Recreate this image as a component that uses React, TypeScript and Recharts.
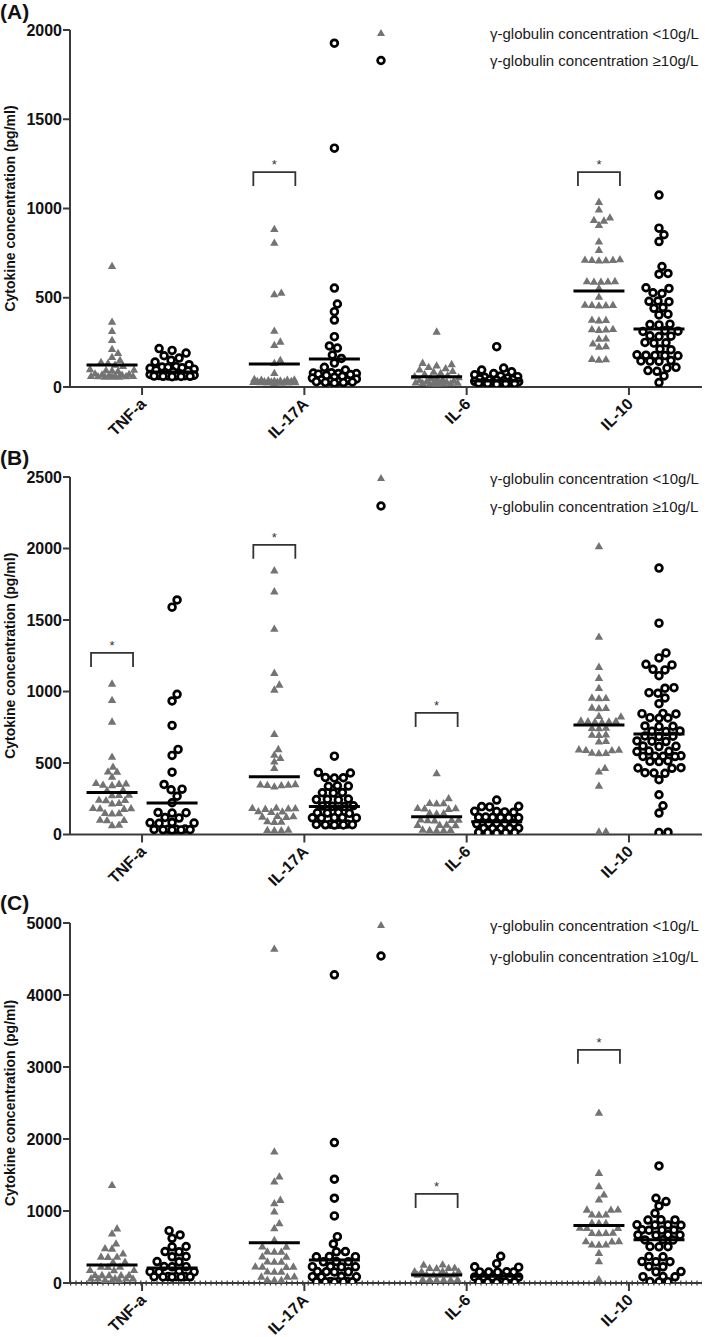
import React from 'react';
import { ScatterChart, Scatter, XAxis, YAxis, Legend, Label, ReferenceLine } from 'recharts';

const categories = ['TNF-a', 'IL-17A', 'IL-6', 'IL-10'];
const seriesNames = ['γ-globulin concentration <10g/L', 'γ-globulin concentration ≥10g/L'];

// ---------- Panel A ----------
const aTicks = [0, 500, 1000, 1500, 2000];
const aLow = [
  [678, 365, 314, 263, 213, 190, 168, 151, 140, 134, 125, 118, 100, 96, 94, 92, 90, 75, 72, 70, 68, 66, 64, 62, 62, 60, 60, 58, 58, 57],
  [885, 808, 528, 520, 315, 254, 235, 151, 134, 78, 45, 42, 40, 40, 38, 36, 35, 34, 33, 32, 30, 30, 29, 28, 27, 26, 25, 25, 24, 22],
  [310, 135, 128, 120, 112, 105, 98, 90, 85, 78, 72, 66, 60, 55, 50, 46, 42, 38, 35, 32, 30, 28, 26, 25, 24, 22, 21, 20, 19, 18],
  [1037, 994, 949, 935, 932, 907, 815, 768, 715, 713, 712, 711, 710, 709, 593, 592, 591, 590, 589, 554, 506, 461, 460, 459, 458, 457, 377, 375, 373, 325, 323, 322, 320, 272, 270, 244, 228, 225, 157, 155, 153],
];
const aHigh = [
  [215, 205, 190, 175, 162, 150, 140, 125, 114, 112, 110, 108, 105, 100, 95, 90, 85, 80, 75, 70, 66, 64, 63, 62, 62, 61, 60, 60, 59, 58],
  [1926, 1338, 554, 465, 422, 375, 282, 230, 218, 179, 160, 134, 110, 95, 80, 78, 76, 75, 72, 70, 65, 60, 55, 50, 45, 40, 35, 32, 30, 30, 28, 26, 25, 22],
  [226, 106, 95, 85, 75, 68, 62, 58, 55, 50, 46, 42, 40, 38, 35, 32, 30, 28, 26, 25, 24, 22, 20, 20, 18, 16],
  [1075, 890, 853, 815, 675, 636, 632, 556, 552, 528, 524, 482, 480, 478, 445, 441, 408, 404, 352, 350, 348, 315, 313, 311, 287, 285, 283, 250, 248, 246, 213, 209, 180, 178, 177, 176, 175, 148, 146, 145, 144, 110, 106, 92, 88, 62, 25],
];
const aLowMedians = [123, 129, 58, 538];
const aHighMedians = [84, 157, 34, 325];
const aBrackets = [{ cat: 2, top: 1204 }, { cat: 4, top: 1204 }];

// ---------- Panel B ----------
const bTicks = [0, 500, 1000, 1500, 2000, 2500];
const bLow = [
  [1055, 940, 789, 544, 474, 440, 438, 404, 360, 357, 354, 348, 344, 313, 309, 278, 276, 274, 243, 241, 239, 220, 216, 185, 183, 181, 179, 150, 148, 146, 103, 101, 99, 68, 64],
  [1847, 1700, 1438, 1130, 1048, 1013, 703, 597, 558, 535, 511, 465, 352, 350, 348, 346, 344, 335, 187, 185, 183, 181, 179, 162, 160, 158, 129, 127, 125, 123, 92, 90, 88, 33, 31, 30, 29],
  [428, 253, 220, 218, 216, 185, 183, 181, 179, 150, 148, 146, 105, 103, 102, 100, 98, 69, 67, 66, 64, 34, 32, 31, 30, 28],
  [2015, 1382, 1172, 1095, 1025, 957, 955, 953, 887, 885, 883, 829, 825, 796, 794, 792, 790, 788, 786, 747, 745, 743, 700, 698, 696, 654, 650, 595, 593, 591, 589, 572, 570, 568, 465, 441, 341, 22, 20],
];
const bHigh = [
  [1640, 1590, 980, 934, 763, 595, 553, 436, 350, 317, 313, 268, 222, 154, 152, 150, 119, 115, 84, 82, 80, 78, 38, 37, 36, 35, 34, 33, 32, 31],
  [548, 434, 430, 399, 397, 395, 341, 339, 337, 294, 292, 290, 248, 246, 244, 242, 201, 199, 197, 195, 154, 152, 150, 148, 119, 118, 117, 116, 115, 73, 72, 71, 70, 69, 68, 67, 66],
  [241, 197, 195, 193, 162, 160, 158, 156, 122, 121, 120, 119, 118, 117, 80, 79, 78, 77, 76, 75, 45, 44, 43, 42, 41, 15, 14, 13, 12, 11],
  [1863, 1478, 1270, 1235, 1190, 1186, 1155, 1151, 1111, 1027, 1023, 992, 988, 955, 915, 847, 845, 843, 817, 815, 813, 759, 757, 755, 724, 722, 720, 689, 687, 685, 654, 652, 650, 619, 617, 615, 584, 582, 580, 550, 548, 547, 546, 545, 514, 512, 510, 467, 465, 463, 432, 430, 428, 383, 278, 201, 150, 16, 14],
];
const bLowMedians = [293, 404, 125, 766];
const bHighMedians = [220, 195, 90, 703];
const bBrackets = [{ cat: 1, top: 1270 }, { cat: 2, top: 2026 }, { cat: 3, top: 850 }];

// ---------- Panel C ----------
const cTicks = [0, 1000, 2000, 3000, 4000, 5000];
const cLow = [
  [1362, 758, 688, 549, 481, 477, 410, 366, 364, 362, 296, 292, 227, 225, 223, 181, 179, 177, 111, 110, 109, 108, 107, 65, 64, 63, 62, 61, 42, 40, 38],
  [4643, 1826, 1479, 1409, 1154, 1108, 992, 830, 760, 598, 507, 503, 437, 435, 433, 368, 364, 298, 296, 294, 229, 227, 225, 223, 159, 157, 155, 90, 88, 86, 44, 42, 40],
  [257, 253, 211, 209, 207, 205, 164, 162, 160, 158, 118, 117, 116, 115, 114, 113, 48, 47, 46, 45, 44, 43],
  [2363, 1529, 1344, 1228, 1158, 1021, 1019, 1017, 952, 950, 948, 836, 834, 832, 767, 765, 763, 697, 695, 693, 691, 581, 579, 577, 535, 533, 531, 417, 301, 51],
];
const cHigh = [
  [727, 667, 621, 507, 503, 437, 433, 368, 364, 298, 294, 229, 227, 225, 159, 157, 155, 153, 90, 89, 88, 87, 86, 85, 84, 83],
  [4281, 1951, 1442, 1178, 932, 644, 542, 437, 433, 368, 366, 364, 298, 296, 294, 229, 227, 225, 223, 159, 157, 155, 153, 90, 88, 86, 84, 21, 20, 19, 18, 17, 16, 15, 14],
  [371, 269, 224, 220, 155, 154, 153, 152, 151, 85, 84, 83, 82, 81, 80, 16, 15, 14, 13, 12, 11],
  [1626, 1177, 1131, 1070, 968, 878, 876, 874, 808, 806, 804, 802, 739, 737, 735, 733, 669, 667, 665, 663, 600, 598, 596, 507, 505, 503, 368, 364, 298, 296, 294, 229, 225, 159, 155, 90, 88, 86, 21, 19, 17],
];
const cLowMedians = [250, 560, 110, 800];
const cHighMedians = [210, 320, 95, 600];
const cBrackets = [{ cat: 3, top: 1237 }, { cat: 4, top: 3239 }];

// ---------- layout constants ----------
const FONT = 'Arial, "Liberation Sans", sans-serif';
const AXIS = '#3a3a3a';
const X_DOMAIN: [number, number] = [0.556, 4.45];
const GROUP_OFFSET = 0.185;

function swarm(values: number[], pxPerUnit: number, d: number, maxHalf: number): number[] {
  const order = values.map((_, i) => i).sort((a, b) => values[a] - values[b]);
  const placed: { x: number; y: number }[] = [];
  const out: number[] = new Array(values.length).fill(0);
  for (const i of order) {
    const y = values[i] * pxPerUnit;
    let chosen = 0;
    let found = false;
    let bestX = 0;
    let bestDist = -1;
    for (let k = 0; k <= maxHalf * 2; k++) {
      const x = k === 0 ? 0 : (k % 2 === 1 ? 1 : -1) * Math.ceil(k / 2);
      let minD = Infinity;
      for (const p of placed) {
        const dd = Math.hypot(p.x - x, p.y - y);
        if (dd < minD) minD = dd;
      }
      if (minD >= d) { chosen = x; found = true; break; }
      if (minD > bestDist) { bestDist = minD; bestX = x; }
    }
    if (!found) chosen = bestX;
    out[i] = chosen;
    placed.push({ x: chosen, y });
  }
  return out;
}

function buildPoints(groups: number[][], side: number, pxPerUnit: number, d: number) {
  const pts: { x: number; y: number; dx: number }[] = [];
  groups.forEach((vals, ci) => {
    const offs = swarm(vals, pxPerUnit, d, 22);
    vals.forEach((v, i) => pts.push({ x: ci + 1 + side * GROUP_OFFSET, y: v, dx: offs[i] }));
  });
  return pts;
}

const TriShape = (p: any) => {
  const cx = p.cx + (p.payload?.dx ?? 0);
  const cy = p.cy;
  return <polygon points={`${cx},${cy - 4.3} ${cx - 4.2},${cy + 3} ${cx + 4.2},${cy + 3}`} fill="#737373" />;
};
const CircShape = (p: any) => {
  const cx = p.cx + (p.payload?.dx ?? 0);
  return <circle cx={cx} cy={p.cy} r={3.4} fill="#fff" stroke="#000" strokeWidth={2.7} />;
};
const MedianShape = (p: any) => (
  <line x1={p.cx - 25.5} x2={p.cx + 25.5} y1={p.cy} y2={p.cy} stroke="#000" strokeWidth={3} />
);
const BracketShape = (p: any) => {
  const { cx, cy } = p;
  return (
    <g>
      <path d={`M${cx - 21},${cy + 14} V${cy} H${cx + 21} V${cy + 14}`} fill="none" stroke="#333" strokeWidth={1.8} />
      <text x={cx} y={cy - 3} textAnchor="middle" fontSize={13} fill="#333" fontFamily={FONT}>*</text>
    </g>
  );
};

const XTick = (p: any) => {
  const { x, y, payload } = p;
  return (
    <text
      transform={`translate(${x + 5},${y + 8}) rotate(-45)`}
      textAnchor="end"
      fontSize={16}
      fontWeight="bold"
      fontFamily={FONT}
      fill="#111"
    >
      {categories[payload.value - 1]}
    </text>
  );
};

const LegendBox = ({ gap }: { gap: number }) => (
  <svg width={337} height={70}>
    <polygon points={`9,${14 - 4} 5,${14 + 3} 13,${14 + 3}`} fill="#737373" />
    <text x={118} y={14} dominantBaseline="central" fontSize={15} fontFamily={FONT} fill="#1a1a1a">{seriesNames[0]}</text>
    <circle cx={9} cy={14 + gap} r={3.4} fill="#fff" stroke="#000" strokeWidth={2.7} />
    <text x={118} y={14 + gap} dominantBaseline="central" fontSize={15} fontFamily={FONT} fill="#1a1a1a">{seriesNames[1]}</text>
  </svg>
);

type PanelProps = {
  top: number;
  plotH: number;
  ticks: number[];
  low: number[][];
  high: number[][];
  lowMed: number[];
  highMed: number[];
  brackets: { cat: number; top: number }[];
  legendTop: number;
  legendGap: number;
  dotted?: boolean;
};

const Panel = ({ top, plotH, ticks, low, high, lowMed, highMed, brackets, legendTop, legendGap, dotted }: PanelProps) => {
  const yMax = ticks[ticks.length - 1];
  const ppu = plotH / yMax;
  const lowPts = buildPoints(low, -1, ppu, 6.5);
  const highPts = buildPoints(high, 1, ppu, 8.2);
  const lowMedPts = lowMed.map((m, i) => ({ x: i + 1 - GROUP_OFFSET, y: m }));
  const highMedPts = highMed.map((m, i) => ({ x: i + 1 + GROUP_OFFSET, y: m }));
  const bracketPts = brackets.map((b) => ({ x: b.cat - GROUP_OFFSET, y: b.top }));
  const height = 30 + plotH + 54;
  return (
    <div style={{ position: 'absolute', left: 0, top, width: 709, height }}>
      <ScatterChart width={709} height={height} margin={{ top: 30, right: 7, bottom: 0, left: 0 }}>
        <XAxis
          type="number"
          dataKey="x"
          domain={X_DOMAIN}
          ticks={[1, 2, 3, 4]}
          allowDataOverflow
          height={54}
          tickSize={8}
          tick={<XTick />}
          axisLine={{ stroke: AXIS, strokeWidth: 2 }}
          tickLine={{ stroke: AXIS, strokeWidth: 2 }}
        />
        <YAxis
          type="number"
          dataKey="y"
          domain={[0, yMax]}
          ticks={ticks}
          allowDataOverflow
          width={70}
          tickSize={7}
          tickMargin={1}
          tick={{ fontSize: 16, fontWeight: 'bold', fill: '#111', fontFamily: FONT }}
          axisLine={{ stroke: AXIS, strokeWidth: 2 }}
          tickLine={{ stroke: AXIS, strokeWidth: 2 }}
        >
          <Label
            content={(props: any) => {
              const vb = props.viewBox || { y: 30, height: plotH };
              const cy = vb.y + vb.height / 2;
              return (
                <text
                  x={15}
                  y={cy}
                  transform={`rotate(-90, 15, ${cy})`}
                  textAnchor="middle"
                  fontSize={14}
                  fontWeight="bold"
                  fontFamily={FONT}
                  fill="#111"
                >
                  Cytokine concentration (pg/ml)
                </text>
              );
            }}
          />
        </YAxis>
        {dotted && (
          <ReferenceLine y={0} stroke={AXIS} strokeWidth={5} strokeDasharray="1.2 4.2" ifOverflow="visible" />
        )}
        <Scatter name={seriesNames[0]} data={lowPts} shape={TriShape} isAnimationActive={false} />
        <Scatter name={seriesNames[1]} data={highPts} shape={CircShape} isAnimationActive={false} />
        <Scatter name="low-median" data={lowMedPts} shape={MedianShape} isAnimationActive={false} legendType="none" />
        <Scatter name="high-median" data={highMedPts} shape={MedianShape} isAnimationActive={false} legendType="none" />
        <Scatter name="brackets" data={bracketPts} shape={BracketShape} isAnimationActive={false} legendType="none" />
        <Legend
          layout="horizontal"
          verticalAlign="middle"
          align="center"
          wrapperStyle={{ top: legendTop, left: 372, width: 337, height: 70 }}
          content={() => <LegendBox gap={legendGap} />}
        />
      </ScatterChart>
    </div>
  );
};

const letterStyle: React.CSSProperties = {
  position: 'absolute',
  left: 0,
  fontFamily: FONT,
  fontWeight: 'bold',
  fontSize: 21,
  lineHeight: '24px',
  color: '#111',
};

export default function App() {
  return (
    <div style={{ position: 'absolute', left: 0, top: 0, width: 709, height: 1337, background: '#fff', overflow: 'hidden' }}>
      <Panel top={0} plotH={357} ticks={aTicks} low={aLow} high={aHigh} lowMed={aLowMedians} highMed={aHighMedians} brackets={aBrackets} legendTop={19} legendGap={27.5} />
      <Panel top={447} plotH={357.5} ticks={bTicks} low={bLow} high={bHigh} lowMed={bLowMedians} highMed={bHighMedians} brackets={bBrackets} legendTop={17} legendGap={28} />
      <Panel top={893} plotH={360} ticks={cTicks} low={cLow} high={cHigh} lowMed={cLowMedians} highMed={cHighMedians} brackets={cBrackets} legendTop={18} legendGap={31} dotted />
      <div style={{ ...letterStyle, top: 0 }}>(A)</div>
      <div style={{ ...letterStyle, top: 446 }}>(B)</div>
      <div style={{ ...letterStyle, top: 891 }}>(C)</div>
    </div>
  );
}
